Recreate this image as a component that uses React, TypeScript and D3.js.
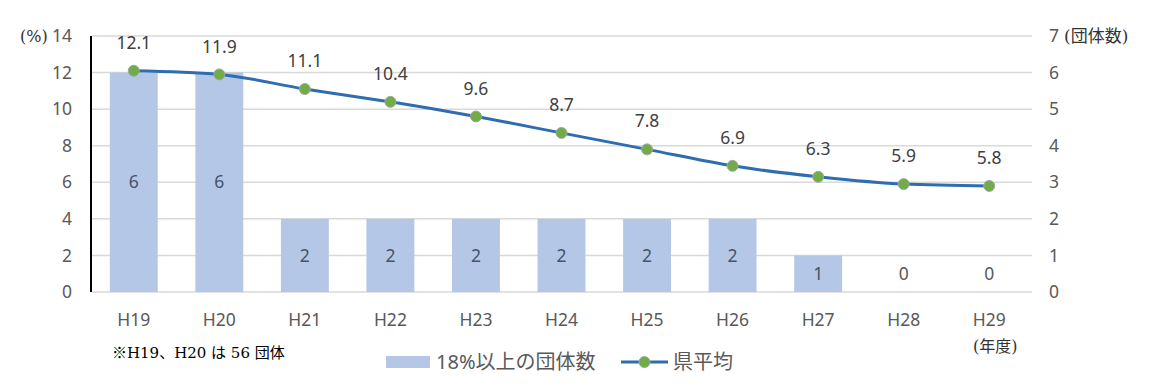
import * as d3 from "d3";

const years = ["H19", "H20", "H21", "H22", "H23", "H24", "H25", "H26", "H27", "H28", "H29"];
const counts = [6, 6, 2, 2, 2, 2, 2, 2, 1, 0, 0];
const averages = [12.1, 11.9, 11.1, 10.4, 9.6, 8.7, 7.8, 6.9, 6.3, 5.9, 5.8];
const leftTicks = [0, 2, 4, 6, 8, 10, 12, 14];
const rightTicks = [0, 1, 2, 3, 4, 5, 6, 7];

const W = 1153;
const H = 389;
const m = { left: 91, right: 121, top: 36, bottom: 97 };

const font = "'Noto Sans', 'Noto Sans CJK JP', sans-serif";
const serif = "'DejaVu Serif', 'Noto Sans CJK JP', serif";
const textGray = "#595959";
const barColor = "#B4C7E7";
const lineColor = "#2E6DB0";
const dotColor = "#70AD47";

export default function App() {
  const x = d3
    .scaleBand<string>()
    .domain(years)
    .range([m.left, W - m.right])
    .paddingInner(0.44)
    .paddingOuter(0.22);
  const yL = d3.scaleLinear().domain([0, 14]).range([H - m.bottom, m.top]);
  const yR = d3.scaleLinear().domain([0, 7]).range([H - m.bottom, m.top]);
  const cx = (d: string) => (x(d) ?? 0) + x.bandwidth() / 2;

  const line = d3
    .line<number>()
    .x((_, i) => cx(years[i]))
    .y((d) => yL(d))
    .curve(d3.curveMonotoneX);

  const x0 = m.left;
  const x1 = W - m.right;

  return (
    <svg width={W} height={H} style={{ position: "absolute", left: 0, top: 0, fontFamily: font }}>
      <rect width={W} height={H} fill="#fff" />
      {leftTicks.map((t) => (
        <line key={"g" + t} x1={x0} x2={x1} y1={yL(t)} y2={yL(t)} stroke="#D9D9D9" strokeWidth={1.5} />
      ))}
      {years.map((yr, i) => (
        <rect
          key={"b" + yr}
          x={x(yr)}
          y={yR(counts[i])}
          width={x.bandwidth()}
          height={yR(0) - yR(counts[i])}
          fill={barColor}
        />
      ))}
      <line x1={x0} x2={x0} y1={yL(14)} y2={yL(0)} stroke="#000" strokeWidth={2} />
      {leftTicks.map((t) => (
        <text key={"l" + t} x={72} y={yL(t)} dy="0.35em" textAnchor="end" fontSize={17.5} fill={textGray}>
          {t}
        </text>
      ))}
      <text x={20} y={yL(14)} dy="0.35em" fontSize={16} fill="#333" fontFamily={serif}>
        (%)
      </text>
      {rightTicks.map((t) => (
        <text key={"r" + t} x={1049} y={yR(t)} dy="0.35em" fontSize={17.5} fill={textGray}>
          {t}
        </text>
      ))}
      <text x={1064} y={yR(7)} dy="0.35em" fontSize={17} fill="#333" fontFamily={serif}>
        (団体数)
      </text>
      {years.map((yr, i) => (
        <text
          key={"c" + yr}
          x={cx(yr)}
          y={counts[i] > 0 ? (yR(counts[i]) + yR(0)) / 2 : yR(0) - 18}
          dy="0.35em"
          textAnchor="middle"
          fontSize={17.5}
          fill={counts[i] > 0 ? "#44546A" : textGray}
        >
          {counts[i]}
        </text>
      ))}
      <path d={line(averages) ?? ""} fill="none" stroke={lineColor} strokeWidth={3} />
      {years.map((yr, i) => (
        <circle key={"p" + yr} cx={cx(yr)} cy={yL(averages[i])} r={5.5} fill={dotColor} stroke="#A5A5A5" strokeWidth={1} />
      ))}
      {years.map((yr, i) => (
        <text key={"v" + yr} x={cx(yr)} y={yL(averages[i]) - 28} dy="0.35em" textAnchor="middle" fontSize={17.5} fill="#404040">
          {averages[i].toFixed(1)}
        </text>
      ))}
      {years.map((yr) => (
        <text key={"x" + yr} x={cx(yr)} y={320} dy="0.35em" textAnchor="middle" fontSize={17.5} fill={textGray}>
          {yr}
        </text>
      ))}
      <text x={cx("H29") + 6} y={346} dy="0.35em" textAnchor="middle" fontSize={16} fill="#333" fontFamily={serif}>
        (年度)
      </text>
      <text x={112} y={353} dy="0.35em" fontSize={15} fill="#000" fontFamily={serif}>
        ※H19、H20 は 56 団体
      </text>
      <g>
        <rect x={386} y={356} width={44} height={12} fill={barColor} />
        <text x={436} y={362} dy="0.35em" fontSize={20} fill={textGray}>
          18%以上の団体数
        </text>
        <line x1={621} x2={668} y1={362} y2={362} stroke={lineColor} strokeWidth={3} />
        <circle cx={644.5} cy={362} r={5.5} fill={dotColor} stroke="#A5A5A5" strokeWidth={1} />
        <text x={673} y={362} dy="0.35em" fontSize={20} fill={textGray}>
          県平均
        </text>
      </g>
    </svg>
  );
}
